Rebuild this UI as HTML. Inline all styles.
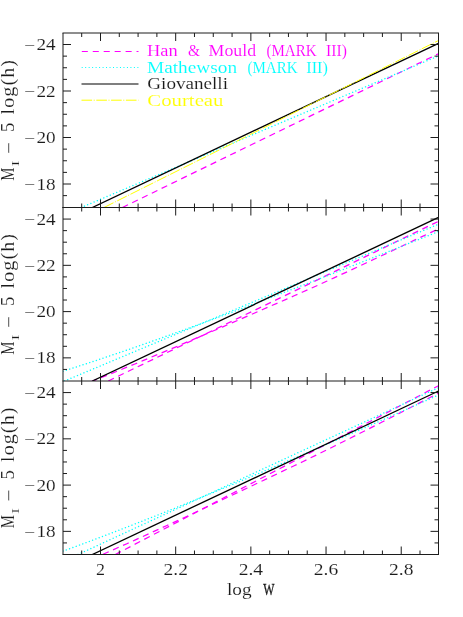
<!DOCTYPE html>
<html><head><meta charset="utf-8"><title>TF relation comparison</title>
<style>html,body{margin:0;padding:0;background:#fff;}body{width:463px;height:617px;overflow:hidden;font-family:"Liberation Serif",serif;}svg{display:block;will-change:transform;}text{font-family:"Liberation Serif",serif;stroke:#fff;stroke-width:0.12px;paint-order:fill stroke;}</style></head><body>
<svg width="463" height="617" viewBox="0 0 463 617">
<rect width="463" height="617" fill="#fff"/>
<defs>
<clipPath id="c0"><rect x="63.0" y="33.0" width="375.5" height="174.5"/></clipPath>
<clipPath id="c1"><rect x="63.0" y="207.5" width="375.5" height="173.5"/></clipPath>
<clipPath id="c2"><rect x="63.0" y="381.0" width="375.5" height="173.5"/></clipPath>
</defs>
<path d="M122.4,207.5 L438.5,53.7" fill="none" stroke="#ff00ff" stroke-width="1.25" stroke-dasharray="6.2 4.7" stroke-linecap="butt" clip-path="url(#c0)"/>
<path d="M81.2,207.5 L438.5,55.9" fill="none" stroke="#00ffff" stroke-width="1.45" stroke-dasharray="0.01 3.5" stroke-linecap="round" clip-path="url(#c0)"/>
<path d="M92.3,207.5 L438.5,43.3" fill="none" stroke="#000" stroke-width="1.35" stroke-linecap="butt" clip-path="url(#c0)"/>
<path d="M104.0,207.5 L438.5,40.5" fill="none" stroke="#ffff00" stroke-width="1.0" stroke-dasharray="10.6 1.6 1 1.6" stroke-linecap="butt" clip-path="url(#c0)"/>
<path d="M63.0,392.5 L71.0,389.5 L79.0,386.4 L87.0,383.2 L95.0,380.1 L102.9,376.9 L110.9,373.7 L118.9,370.5 L126.9,367.2 L134.9,364.0 L142.9,360.7 L150.9,357.3 L158.9,354.0 L166.9,350.6 L174.9,347.3 L182.8,343.9 L190.8,340.5 L198.8,337.1 L206.8,333.7 L214.8,330.2 L222.8,326.8 L230.8,323.3 L238.8,319.9 L246.8,316.4 L254.7,313.0 L262.7,309.5 L270.7,306.0 L278.7,302.6 L286.7,299.1 L294.7,295.5 L302.7,292.0 L310.7,288.5 L318.7,284.9 L326.6,281.3 L334.6,277.6 L342.6,273.9 L350.6,270.2 L358.6,266.5 L366.6,262.8 L374.6,259.0 L382.6,255.3 L390.6,251.5 L398.6,247.7 L406.5,243.9 L414.5,240.1 L422.5,236.4 L430.5,232.6 L438.5,228.8" fill="none" stroke="#ff00ff" stroke-width="1.25" stroke-dasharray="6.2 4.7" stroke-dashoffset="2.7" stroke-linecap="butt" clip-path="url(#c1)"/>
<path d="M108.3,381.0 L438.5,221.3" fill="none" stroke="#ff00ff" stroke-width="1.25" stroke-dasharray="6.2 4.7" stroke-linecap="butt" clip-path="url(#c1)"/>
<path d="M63.0,371.2 L71.0,368.7 L79.0,366.1 L87.0,363.5 L95.0,360.9 L102.9,358.2 L110.9,355.5 L118.9,352.8 L126.9,350.1 L134.9,347.3 L142.9,344.5 L150.9,341.7 L158.9,338.9 L166.9,336.0 L174.9,333.2 L182.8,330.3 L190.8,327.4 L198.8,324.5 L206.8,321.5 L214.8,318.6 L222.8,315.6 L230.8,312.7 L238.8,309.7 L246.8,306.7 L254.7,303.6 L262.7,300.6 L270.7,297.6 L278.7,294.5 L286.7,291.4 L294.7,288.4 L302.7,285.3 L310.7,282.2 L318.7,279.1 L326.6,276.0 L334.6,272.8 L342.6,269.7 L350.6,266.6 L358.6,263.4 L366.6,260.2 L374.6,257.1 L382.6,253.9 L390.6,250.7 L398.6,247.6 L406.5,244.4 L414.5,241.2 L422.5,238.0 L430.5,234.8 L438.5,231.5" fill="none" stroke="#00ffff" stroke-width="1.45" stroke-dasharray="0.01 3.5" stroke-linecap="round" clip-path="url(#c1)"/>
<path d="M64.5,381.0 L438.5,224.2" fill="none" stroke="#00ffff" stroke-width="1.45" stroke-dasharray="0.01 3.5" stroke-linecap="round" clip-path="url(#c1)"/>
<path d="M92.3,381.0 L438.5,217.4" fill="none" stroke="#000" stroke-width="1.35" stroke-linecap="butt" clip-path="url(#c1)"/>
<path d="M63.0,571.4 L71.0,568.1 L79.0,564.6 L87.0,561.2 L95.0,557.8 L102.9,554.3 L110.9,550.8 L118.9,547.2 L126.9,543.7 L134.9,540.1 L142.9,536.5 L150.9,532.8 L158.9,529.2 L166.9,525.5 L174.9,521.9 L182.8,518.2 L190.8,514.5 L198.8,510.7 L206.8,507.0 L214.8,503.3 L222.8,499.5 L230.8,495.8 L238.8,492.0 L246.8,488.2 L254.7,484.5 L262.7,480.7 L270.7,476.9 L278.7,473.1 L286.7,469.3 L294.7,465.5 L302.7,461.7 L310.7,457.8 L318.7,453.9 L326.6,450.0 L334.6,446.0 L342.6,442.0 L350.6,438.0 L358.6,434.0 L366.6,430.0 L374.6,425.9 L382.6,421.8 L390.6,417.7 L398.6,413.6 L406.5,409.6 L414.5,405.5 L422.5,401.4 L430.5,397.3 L438.5,393.2" fill="none" stroke="#ff00ff" stroke-width="1.25" stroke-dasharray="6.2 4.7" stroke-linecap="butt" clip-path="url(#c2)"/>
<path d="M115.3,554.5 L438.5,385.7" fill="none" stroke="#ff00ff" stroke-width="1.25" stroke-dasharray="6.2 4.7" stroke-linecap="butt" clip-path="url(#c2)"/>
<path d="M63.0,551.1 L71.0,548.2 L79.0,545.3 L87.0,542.3 L95.0,539.3 L102.9,536.3 L110.9,533.3 L118.9,530.2 L126.9,527.1 L134.9,524.0 L142.9,520.9 L150.9,517.7 L158.9,514.6 L166.9,511.4 L174.9,508.2 L182.8,504.9 L190.8,501.7 L198.8,498.4 L206.8,495.1 L214.8,491.8 L222.8,488.5 L230.8,485.2 L238.8,481.9 L246.8,478.5 L254.7,475.1 L262.7,471.8 L270.7,468.4 L278.7,465.0 L286.7,461.5 L294.7,458.1 L302.7,454.7 L310.7,451.2 L318.7,447.8 L326.6,444.3 L334.6,440.9 L342.6,437.4 L350.6,433.9 L358.6,430.4 L366.6,426.9 L374.6,423.4 L382.6,419.9 L390.6,416.3 L398.6,412.8 L406.5,409.3 L414.5,405.7 L422.5,402.2 L430.5,398.6 L438.5,395.0" fill="none" stroke="#00ffff" stroke-width="1.45" stroke-dasharray="0.01 3.5" stroke-linecap="round" clip-path="url(#c2)"/>
<path d="M78.1,554.5 L438.5,387.7" fill="none" stroke="#00ffff" stroke-width="1.45" stroke-dasharray="0.01 3.5" stroke-linecap="round" clip-path="url(#c2)"/>
<path d="M92.3,554.5 L438.5,391.0" fill="none" stroke="#000" stroke-width="1.35" stroke-linecap="butt" clip-path="url(#c2)"/>
<path d="M62.5,33.0H439.0M62.5,207.5H439.0M62.5,207.5H439.0M62.5,381.0H439.0M62.5,554.5H439.0M63.0,33.0V554.5M438.5,33.0V554.5M81.70,33.00V37.00M81.70,203.50V211.50M81.70,377.00V385.00M81.70,550.50V554.50M100.50,33.00V41.00M100.50,199.50V215.50M100.50,373.00V389.00M100.50,546.50V554.50M119.29,33.00V37.00M119.29,203.50V211.50M119.29,377.00V385.00M119.29,550.50V554.50M138.09,33.00V37.00M138.09,203.50V211.50M138.09,377.00V385.00M138.09,550.50V554.50M156.88,33.00V37.00M156.88,203.50V211.50M156.88,377.00V385.00M156.88,550.50V554.50M175.68,33.00V41.00M175.68,199.50V215.50M175.68,373.00V389.00M175.68,546.50V554.50M194.47,33.00V37.00M194.47,203.50V211.50M194.47,377.00V385.00M194.47,550.50V554.50M213.27,33.00V37.00M213.27,203.50V211.50M213.27,377.00V385.00M213.27,550.50V554.50M232.07,33.00V37.00M232.07,203.50V211.50M232.07,377.00V385.00M232.07,550.50V554.50M250.86,33.00V41.00M250.86,199.50V215.50M250.86,373.00V389.00M250.86,546.50V554.50M269.66,33.00V37.00M269.66,203.50V211.50M269.66,377.00V385.00M269.66,550.50V554.50M288.45,33.00V37.00M288.45,203.50V211.50M288.45,377.00V385.00M288.45,550.50V554.50M307.24,33.00V37.00M307.24,203.50V211.50M307.24,377.00V385.00M307.24,550.50V554.50M326.04,33.00V41.00M326.04,199.50V215.50M326.04,373.00V389.00M326.04,546.50V554.50M344.83,33.00V37.00M344.83,203.50V211.50M344.83,377.00V385.00M344.83,550.50V554.50M363.63,33.00V37.00M363.63,203.50V211.50M363.63,377.00V385.00M363.63,550.50V554.50M382.42,33.00V37.00M382.42,203.50V211.50M382.42,377.00V385.00M382.42,550.50V554.50M401.22,33.00V41.00M401.22,199.50V215.50M401.22,373.00V389.00M401.22,546.50V554.50M420.01,33.00V37.00M420.01,203.50V211.50M420.01,377.00V385.00M420.01,550.50V554.50M63.0,44.51h8.0M438.5,44.51h-8.0M63.0,56.13h4.0M438.5,56.13h-4.0M63.0,67.75h4.0M438.5,67.75h-4.0M63.0,79.38h4.0M438.5,79.38h-4.0M63.0,91.00h8.0M438.5,91.00h-8.0M63.0,102.63h4.0M438.5,102.63h-4.0M63.0,114.25h4.0M438.5,114.25h-4.0M63.0,125.88h4.0M438.5,125.88h-4.0M63.0,137.50h8.0M438.5,137.50h-8.0M63.0,149.13h4.0M438.5,149.13h-4.0M63.0,160.75h4.0M438.5,160.75h-4.0M63.0,172.38h4.0M438.5,172.38h-4.0M63.0,184.00h8.0M438.5,184.00h-8.0M63.0,195.63h4.0M438.5,195.63h-4.0M63.0,219.07h8.0M438.5,219.07h-8.0M63.0,230.63h4.0M438.5,230.63h-4.0M63.0,242.20h4.0M438.5,242.20h-4.0M63.0,253.77h4.0M438.5,253.77h-4.0M63.0,265.33h8.0M438.5,265.33h-8.0M63.0,276.90h4.0M438.5,276.90h-4.0M63.0,288.47h4.0M438.5,288.47h-4.0M63.0,300.03h4.0M438.5,300.03h-4.0M63.0,311.60h8.0M438.5,311.60h-8.0M63.0,323.17h4.0M438.5,323.17h-4.0M63.0,334.73h4.0M438.5,334.73h-4.0M63.0,346.30h4.0M438.5,346.30h-4.0M63.0,357.87h8.0M438.5,357.87h-8.0M63.0,369.43h4.0M438.5,369.43h-4.0M63.0,392.57h8.0M438.5,392.57h-8.0M63.0,404.13h4.0M438.5,404.13h-4.0M63.0,415.70h4.0M438.5,415.70h-4.0M63.0,427.27h4.0M438.5,427.27h-4.0M63.0,438.83h8.0M438.5,438.83h-8.0M63.0,450.40h4.0M438.5,450.40h-4.0M63.0,461.97h4.0M438.5,461.97h-4.0M63.0,473.53h4.0M438.5,473.53h-4.0M63.0,485.10h8.0M438.5,485.10h-8.0M63.0,496.67h4.0M438.5,496.67h-4.0M63.0,508.23h4.0M438.5,508.23h-4.0M63.0,519.80h4.0M438.5,519.80h-4.0M63.0,531.37h8.0M438.5,531.37h-8.0M63.0,542.93h4.0M438.5,542.93h-4.0" fill="none" stroke="#1c1c1c" stroke-width="1"/>
<text x="23.9" y="50.8" font-size="17" text-anchor="start" fill="#1a1a1a" textLength="11.1" lengthAdjust="spacingAndGlyphs">−</text>
<text x="36.4" y="50.1" font-size="17" text-anchor="start" fill="#1a1a1a" textLength="19.2" lengthAdjust="spacingAndGlyphs">24</text>
<text x="23.9" y="97.4" font-size="17" text-anchor="start" fill="#1a1a1a" textLength="11.1" lengthAdjust="spacingAndGlyphs">−</text>
<text x="36.4" y="96.7" font-size="17" text-anchor="start" fill="#1a1a1a" textLength="19.2" lengthAdjust="spacingAndGlyphs">22</text>
<text x="23.9" y="143.9" font-size="17" text-anchor="start" fill="#1a1a1a" textLength="11.1" lengthAdjust="spacingAndGlyphs">−</text>
<text x="36.4" y="143.2" font-size="17" text-anchor="start" fill="#1a1a1a" textLength="19.2" lengthAdjust="spacingAndGlyphs">20</text>
<text x="23.9" y="190.4" font-size="17" text-anchor="start" fill="#1a1a1a" textLength="11.1" lengthAdjust="spacingAndGlyphs">−</text>
<text x="36.4" y="189.7" font-size="17" text-anchor="start" fill="#1a1a1a" textLength="19.2" lengthAdjust="spacingAndGlyphs">18</text>
<text x="23.9" y="225.3" font-size="17" text-anchor="start" fill="#1a1a1a" textLength="11.1" lengthAdjust="spacingAndGlyphs">−</text>
<text x="36.4" y="224.6" font-size="17" text-anchor="start" fill="#1a1a1a" textLength="19.2" lengthAdjust="spacingAndGlyphs">24</text>
<text x="23.9" y="271.5" font-size="17" text-anchor="start" fill="#1a1a1a" textLength="11.1" lengthAdjust="spacingAndGlyphs">−</text>
<text x="36.4" y="270.8" font-size="17" text-anchor="start" fill="#1a1a1a" textLength="19.2" lengthAdjust="spacingAndGlyphs">22</text>
<text x="23.9" y="317.8" font-size="17" text-anchor="start" fill="#1a1a1a" textLength="11.1" lengthAdjust="spacingAndGlyphs">−</text>
<text x="36.4" y="317.1" font-size="17" text-anchor="start" fill="#1a1a1a" textLength="19.2" lengthAdjust="spacingAndGlyphs">20</text>
<text x="23.9" y="364.1" font-size="17" text-anchor="start" fill="#1a1a1a" textLength="11.1" lengthAdjust="spacingAndGlyphs">−</text>
<text x="36.4" y="363.4" font-size="17" text-anchor="start" fill="#1a1a1a" textLength="19.2" lengthAdjust="spacingAndGlyphs">18</text>
<text x="23.9" y="398.8" font-size="17" text-anchor="start" fill="#1a1a1a" textLength="11.1" lengthAdjust="spacingAndGlyphs">−</text>
<text x="36.4" y="398.1" font-size="17" text-anchor="start" fill="#1a1a1a" textLength="19.2" lengthAdjust="spacingAndGlyphs">24</text>
<text x="23.9" y="445.0" font-size="17" text-anchor="start" fill="#1a1a1a" textLength="11.1" lengthAdjust="spacingAndGlyphs">−</text>
<text x="36.4" y="444.3" font-size="17" text-anchor="start" fill="#1a1a1a" textLength="19.2" lengthAdjust="spacingAndGlyphs">22</text>
<text x="23.9" y="491.3" font-size="17" text-anchor="start" fill="#1a1a1a" textLength="11.1" lengthAdjust="spacingAndGlyphs">−</text>
<text x="36.4" y="490.6" font-size="17" text-anchor="start" fill="#1a1a1a" textLength="19.2" lengthAdjust="spacingAndGlyphs">20</text>
<text x="23.9" y="537.6" font-size="17" text-anchor="start" fill="#1a1a1a" textLength="11.1" lengthAdjust="spacingAndGlyphs">−</text>
<text x="36.4" y="536.9" font-size="17" text-anchor="start" fill="#1a1a1a" textLength="19.2" lengthAdjust="spacingAndGlyphs">18</text>
<text x="96.0" y="575.0" font-size="17" text-anchor="start" fill="#1a1a1a" textLength="9.0" lengthAdjust="spacingAndGlyphs">2</text>
<text x="163.5" y="575.0" font-size="17" text-anchor="start" fill="#1a1a1a" textLength="24.4" lengthAdjust="spacingAndGlyphs">2.2</text>
<text x="238.7" y="575.0" font-size="17" text-anchor="start" fill="#1a1a1a" textLength="24.4" lengthAdjust="spacingAndGlyphs">2.4</text>
<text x="313.8" y="575.0" font-size="17" text-anchor="start" fill="#1a1a1a" textLength="24.4" lengthAdjust="spacingAndGlyphs">2.6</text>
<text x="389.0" y="575.0" font-size="17" text-anchor="start" fill="#1a1a1a" textLength="24.4" lengthAdjust="spacingAndGlyphs">2.8</text>
<text x="227.0" y="595.4" font-size="17.5" text-anchor="start" fill="#1a1a1a" textLength="24.6" lengthAdjust="spacingAndGlyphs">log</text>
<text x="263.2" y="595.4" font-size="17.5" text-anchor="start" fill="#1a1a1a" textLength="11.2" lengthAdjust="spacingAndGlyphs" style="stroke:#1a1a1a;stroke-width:0.35px">W</text>
<g transform="translate(14.1,180.4) rotate(-90)" fill="#1a1a1a">
<text x="-0.3" y="0" font-size="18.3" textLength="13.2" lengthAdjust="spacingAndGlyphs">M</text>
<text x="14.0" y="5.2" font-size="10.5" textLength="6" lengthAdjust="spacingAndGlyphs">I</text>
<text x="26.4" y="0.6" font-size="18.3" textLength="11.9" lengthAdjust="spacingAndGlyphs">−</text>
<text x="48.4" y="0" font-size="18.3" textLength="9.4" lengthAdjust="spacingAndGlyphs">5</text>
<text transform="translate(66.0,0) scale(1.1,1)" font-size="18.3" textLength="49.5" lengthAdjust="spacing">log(h)</text>
</g>
<g transform="translate(14.1,354.4) rotate(-90)" fill="#1a1a1a">
<text x="-0.3" y="0" font-size="18.3" textLength="13.2" lengthAdjust="spacingAndGlyphs">M</text>
<text x="14.0" y="5.2" font-size="10.5" textLength="6" lengthAdjust="spacingAndGlyphs">I</text>
<text x="26.4" y="0.6" font-size="18.3" textLength="11.9" lengthAdjust="spacingAndGlyphs">−</text>
<text x="48.4" y="0" font-size="18.3" textLength="9.4" lengthAdjust="spacingAndGlyphs">5</text>
<text transform="translate(66.0,0) scale(1.1,1)" font-size="18.3" textLength="49.5" lengthAdjust="spacing">log(h)</text>
</g>
<g transform="translate(14.1,528.0) rotate(-90)" fill="#1a1a1a">
<text x="-0.3" y="0" font-size="18.3" textLength="13.2" lengthAdjust="spacingAndGlyphs">M</text>
<text x="14.0" y="5.2" font-size="10.5" textLength="6" lengthAdjust="spacingAndGlyphs">I</text>
<text x="26.4" y="0.6" font-size="18.3" textLength="11.9" lengthAdjust="spacingAndGlyphs">−</text>
<text x="48.4" y="0" font-size="18.3" textLength="9.4" lengthAdjust="spacingAndGlyphs">5</text>
<text transform="translate(66.0,0) scale(1.1,1)" font-size="18.3" textLength="49.5" lengthAdjust="spacing">log(h)</text>
</g>
<path d="M81.8,51.5 L138.5,51.5" fill="none" stroke="#ff00ff" stroke-width="1.0" stroke-dasharray="6.05 4.9" stroke-linecap="butt"/>
<path d="M81.7,67.5 L138.8,67.5" fill="none" stroke="#00ffff" stroke-width="1.0" stroke-dasharray="1.0 2.48" stroke-linecap="butt"/>
<path d="M81.5,84.0 L138.5,84.0" fill="none" stroke="#000" stroke-width="1.2" stroke-linecap="butt"/>
<path d="M81.5,100.2 L138.5,100.2" fill="none" stroke="#ffff00" stroke-width="1.0" stroke-dasharray="10.6 1.6 1 1.6" stroke-linecap="butt"/>
<text x="147.0" y="56.4" font-size="17.5" text-anchor="start" fill="#ff00ff" textLength="30.7" lengthAdjust="spacingAndGlyphs">Han</text>
<text x="188.0" y="56.4" font-size="17.5" text-anchor="start" fill="#ff00ff" textLength="12.0" lengthAdjust="spacingAndGlyphs">&amp;</text>
<text x="208.6" y="56.4" font-size="17.5" text-anchor="start" fill="#ff00ff" textLength="47.5" lengthAdjust="spacingAndGlyphs">Mould</text>
<text x="266.5" y="56.4" font-size="17.5" text-anchor="start" fill="#ff00ff" textLength="50.1" lengthAdjust="spacingAndGlyphs">(MARK</text>
<text x="326.1" y="56.4" font-size="17.5" text-anchor="start" fill="#ff00ff" textLength="20.8" lengthAdjust="spacingAndGlyphs">III)</text>
<text x="147.0" y="72.7" font-size="17.5" text-anchor="start" fill="#00ffff" textLength="90.1" lengthAdjust="spacingAndGlyphs">Mathewson</text>
<text x="247.5" y="72.7" font-size="17.5" text-anchor="start" fill="#00ffff" textLength="50.1" lengthAdjust="spacingAndGlyphs">(MARK</text>
<text x="306.3" y="72.7" font-size="17.5" text-anchor="start" fill="#00ffff" textLength="21.6" lengthAdjust="spacingAndGlyphs">III)</text>
<text x="147.3" y="89.3" font-size="17.5" text-anchor="start" fill="#1a1a1a" textLength="80.7" lengthAdjust="spacingAndGlyphs">Giovanelli</text>
<text x="147.3" y="105.6" font-size="17.5" text-anchor="start" fill="#ffff00" textLength="76.2" lengthAdjust="spacingAndGlyphs">Courteau</text>
</svg></body></html>
